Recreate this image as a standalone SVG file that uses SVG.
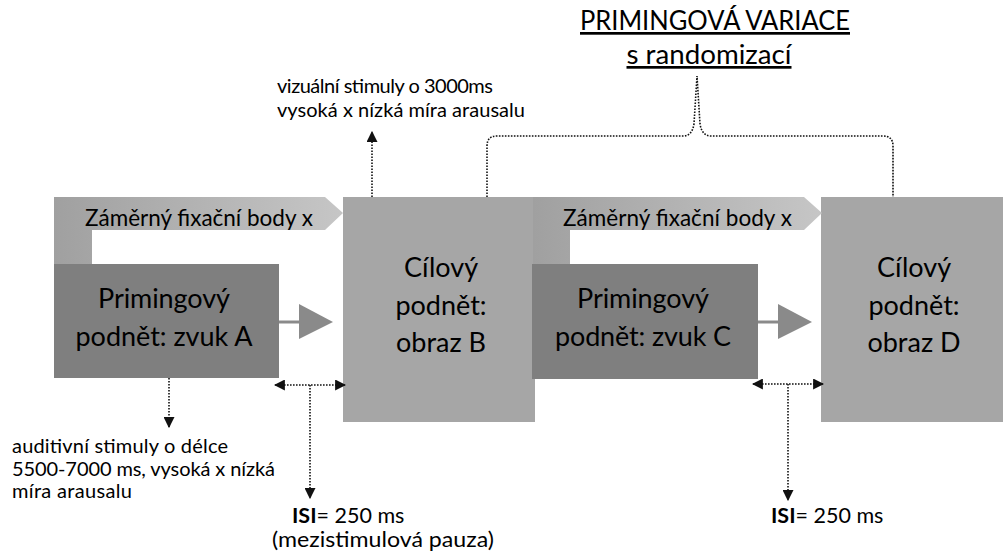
<svg xmlns="http://www.w3.org/2000/svg" width="1003" height="554" viewBox="0 0 1003 554">
<style>
text{font-family:Lato,"Liberation Sans",sans-serif;fill:#000}
.box{font-size:27px;text-anchor:middle}
.fix{font-size:22.5px}
.note{font-size:20px}
.isi{font-size:21.5px}
.title{font-size:27px;text-anchor:middle;text-decoration:underline}
.dark{fill:#7f7f7f}
.light{fill:#a6a6a6}
.dot{fill:none;stroke:#111;stroke-width:1.6;stroke-dasharray:1.6 1.4}
.flow{stroke:#8a8a8a;stroke-width:3}
.tri{fill:#8a8a8a}
</style>
<defs>
<linearGradient id="fixg" x1="0" y1="0" x2="1" y2="0">
<stop offset="0" stop-color="#a0a0a0"/>
<stop offset="1" stop-color="#c6c6c6"/>
</linearGradient>
<marker id="ah" viewBox="0 0 10 10" refX="9" refY="5" markerWidth="11" markerHeight="11" markerUnits="userSpaceOnUse" orient="auto-start-reverse">
<path d="M0,0 L10,5 L0,10 z" fill="#111"/>
</marker>
</defs>

<g id="title">
<text class="title" x="715" y="30" textLength="270" lengthAdjust="spacingAndGlyphs">PRIMINGOVÁ VARIACE</text>
<text class="title" x="709" y="64" textLength="165" lengthAdjust="spacingAndGlyphs">s randomizací</text>
</g>

<g id="target-B">
<rect class="light" x="343" y="197" width="192" height="225"/>
<text class="box" x="441" y="277">Cílový</text>
<text class="box" x="441" y="315">podnět:</text>
<text class="box" x="441" y="352">obraz B</text>
</g>

<g id="fixation-1">
<path d="M54,197 H325 L343,213 L325,230 H92 V265 H54 Z" fill="url(#fixg)"/>
<text class="fix" x="85" y="226" textLength="228" lengthAdjust="spacing">Záměrný fixační body x</text>
</g>

<g id="priming-A">
<rect class="dark" x="54" y="264" width="225" height="114"/>
<text class="box" x="164" y="308" textLength="132" lengthAdjust="spacing">Primingový</text>
<text class="box" x="164" y="346" textLength="177" lengthAdjust="spacing">podnět: zvuk A</text>
</g>

<g id="target-D">
<rect class="light" x="821" y="197" width="182" height="225"/>
<text class="box" x="914" y="277">Cílový</text>
<text class="box" x="914" y="315">podnět:</text>
<text class="box" x="914" y="352">obraz D</text>
</g>

<g id="fixation-2">
<path d="M533,197 H804 L822,213 L804,230 H570 V265 H533 Z" fill="url(#fixg)"/>
<text class="fix" x="563" y="226" textLength="229" lengthAdjust="spacing">Záměrný fixační body x</text>
</g>

<g id="priming-C">
<rect class="dark" x="532" y="264" width="226" height="115"/>
<text class="box" x="643" y="308" textLength="132" lengthAdjust="spacing">Primingový</text>
<text class="box" x="643" y="346" textLength="176" lengthAdjust="spacing">podnět: zvuk C</text>
</g>

<g id="notes">
<text class="note" x="277" y="93" textLength="216" lengthAdjust="spacing">vizuální stimuly o 3000ms</text>
<text class="note" x="277" y="117" textLength="248" lengthAdjust="spacing">vysoká x nízká míra arausalu</text>
<text class="note" x="12" y="453" textLength="216" lengthAdjust="spacing">auditivní stimuly o délce</text>
<text class="note" x="12" y="476" textLength="263" lengthAdjust="spacing">5500-7000 ms, vysoká x nízká</text>
<text class="note" x="12" y="498" textLength="120" lengthAdjust="spacing">míra arausalu</text>
<text class="isi" x="292" y="523"><tspan font-weight="bold">ISI</tspan>= 250 ms</text>
<text class="isi" x="272" y="547" textLength="222" lengthAdjust="spacingAndGlyphs">(mezistimulová pauza)</text>
<text class="isi" x="771" y="523"><tspan font-weight="bold">ISI</tspan>= 250 ms</text>
</g>

<g id="connectors">
<line class="flow" x1="279" y1="322" x2="301" y2="322"/>
<path class="tri" d="M299,304 L333,322 L299,339 Z"/>
<line class="flow" x1="758" y1="322" x2="780" y2="322"/>
<path class="tri" d="M778,304 L812,322 L778,339 Z"/>
<line class="dot" x1="372" y1="197" x2="372" y2="132" marker-end="url(#ah)"/>
<line class="dot" x1="169" y1="378" x2="169" y2="427" marker-end="url(#ah)"/>
<line class="dot" x1="275" y1="385" x2="345" y2="385" marker-start="url(#ah)" marker-end="url(#ah)"/>
<line class="dot" x1="310" y1="385" x2="310" y2="498" marker-end="url(#ah)"/>
<line class="dot" x1="753" y1="384" x2="823" y2="384" marker-start="url(#ah)" marker-end="url(#ah)"/>
<line class="dot" x1="788" y1="384" x2="788" y2="500" marker-end="url(#ah)"/>
<path class="dot" d="M487,197 V146 Q487,136 497,136 H683 Q692,136 694,124 L697,76 L700,124 Q702,136 711,136 H883 Q893,136 893,146 V197"/>
</g>
</svg>
